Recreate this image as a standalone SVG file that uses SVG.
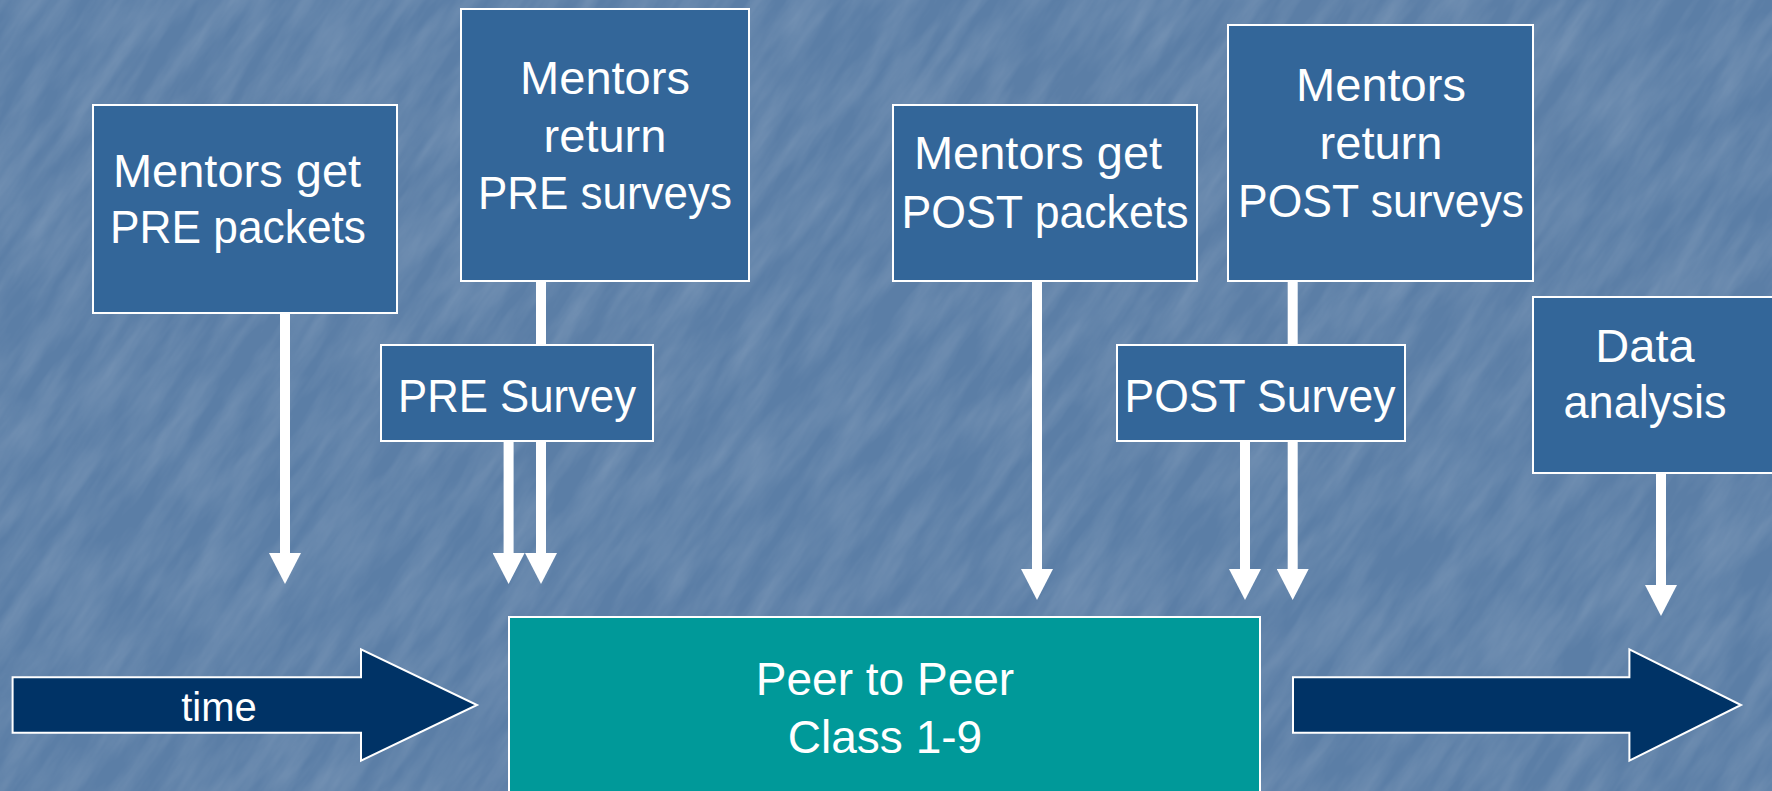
<svg xmlns="http://www.w3.org/2000/svg" width="1772" height="791" viewBox="0 0 1772 791">
<defs>
<style>
.box{fill:#336699;stroke:#ffffff;stroke-width:2}
.lbl{font-family:"Liberation Sans",Arial,sans-serif;font-size:47px;fill:#ffffff;text-anchor:middle}
.conn{stroke:#ffffff;stroke-width:10;fill:none;marker-end:url(#head)}
.big{fill:#003366;stroke:#ffffff;stroke-width:2}
</style>
<marker id="head" viewBox="0 0 31 32" refX="1" refY="16" markerWidth="31" markerHeight="32" markerUnits="userSpaceOnUse" orient="auto">
<path d="M0,0 L31,16 L0,32 Z" fill="#ffffff"/>
</marker>
<filter id="tex" x="0" y="0" width="100%" height="100%">
<feTurbulence type="fractalNoise" baseFrequency="0.01 0.05" numOctaves="4" seed="7"/>
<feColorMatrix type="matrix" values="0 0 0 0 1  0 0 0 0 1  0 0 0 0 1  0 0 0 -1.4 1.0"/>
</filter>
</defs>
<rect x="0" y="0" width="1772" height="791" fill="#5b7ea6"/>
<g transform="rotate(-55 886 395)" opacity="0.16">
<rect x="-700" y="-800" width="3200" height="2400" filter="url(#tex)"/>
</g>

<g id="connectors">
<line class="conn" x1="285" y1="313" x2="285" y2="554"/>
<line class="conn" x1="508.6" y1="441" x2="508.6" y2="554"/>
<line class="conn" x1="541" y1="281" x2="541" y2="554"/>
<line class="conn" x1="1037" y1="281" x2="1037" y2="570"/>
<line class="conn" x1="1245" y1="441" x2="1245" y2="570"/>
<line class="conn" x1="1292.7" y1="281" x2="1292.7" y2="570"/>
<line class="conn" x1="1661" y1="473" x2="1661" y2="586"/>
</g>

<g id="time-arrow">
<path class="big" d="M12.6,677.3 H361 V649.3 L477,705 L361,760.7 V732.7 H12.6 Z"/>
<text x="219" y="721" style="font-family:'Liberation Sans',Arial,sans-serif;font-size:40px;fill:#ffffff;text-anchor:middle">time</text>
</g>

<g id="end-arrow">
<path class="big" d="M1293,677.3 H1629.4 V649.3 L1741,705 L1629.4,760.7 V732.7 H1293 Z"/>
</g>

<g id="pre-packets">
<rect class="box" x="93" y="105" width="304" height="208"/>
<text class="lbl" x="237" y="187">Mentors get</text>
<text class="lbl" x="238" y="243" textLength="256" lengthAdjust="spacingAndGlyphs">PRE packets</text>
</g>

<g id="pre-return">
<rect class="box" x="461" y="9" width="288" height="272"/>
<text class="lbl" x="605" y="94">Mentors</text>
<text class="lbl" x="605" y="151.5">return</text>
<text class="lbl" x="605" y="209" textLength="254" lengthAdjust="spacingAndGlyphs">PRE surveys</text>
</g>

<g id="pre-survey">
<rect class="box" x="381" y="345" width="272" height="96"/>
<text class="lbl" x="517" y="412" textLength="238" lengthAdjust="spacingAndGlyphs">PRE Survey</text>
</g>

<g id="post-packets">
<rect class="box" x="893" y="105" width="304" height="176"/>
<text class="lbl" x="1038" y="169">Mentors get</text>
<text class="lbl" x="1045" y="227.5" textLength="287" lengthAdjust="spacingAndGlyphs">POST packets</text>
</g>

<g id="post-return">
<rect class="box" x="1228" y="25" width="305" height="256"/>
<text class="lbl" x="1381" y="100.5">Mentors</text>
<text class="lbl" x="1381" y="159">return</text>
<text class="lbl" x="1381" y="216.5" textLength="286" lengthAdjust="spacingAndGlyphs">POST surveys</text>
</g>

<g id="post-survey">
<rect class="box" x="1117" y="345" width="288" height="96"/>
<text class="lbl" x="1260" y="412" textLength="271" lengthAdjust="spacingAndGlyphs">POST Survey</text>
</g>

<g id="data-analysis">
<rect class="box" x="1533" y="297" width="260" height="176"/>
<text class="lbl" x="1645" y="361.5">Data</text>
<text class="lbl" x="1645" y="418" textLength="163" lengthAdjust="spacingAndGlyphs">analysis</text>
</g>

<g id="peer-class">
<rect x="509" y="617" width="751" height="200" fill="#009999" stroke="#ffffff" stroke-width="2"/>
<text class="lbl" x="885" y="695" style="font-size:46px">Peer to Peer</text>
<text class="lbl" x="885" y="752.5" style="font-size:46px">Class 1-9</text>
</g>
</svg>
